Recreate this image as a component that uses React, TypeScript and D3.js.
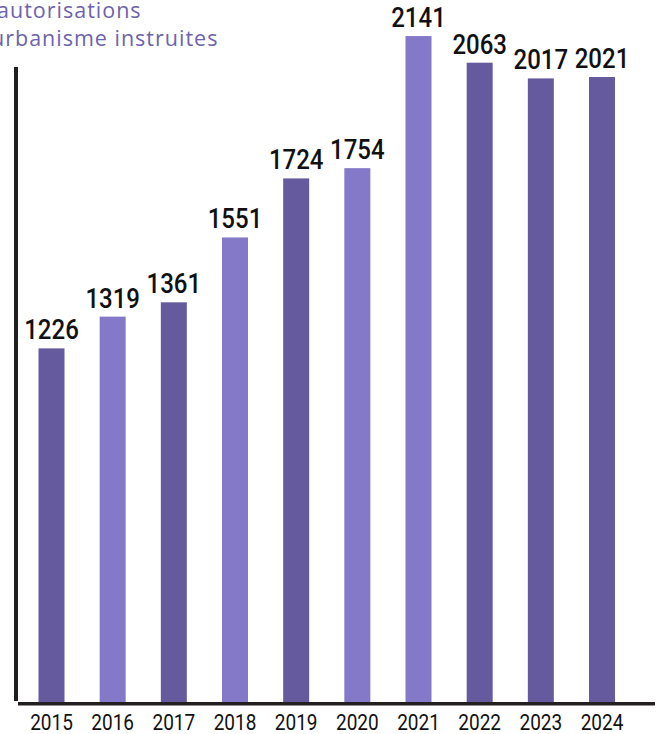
import { useEffect, useRef } from "react";
import * as d3 from "d3";

const years = ["2015", "2016", "2017", "2018", "2019", "2020", "2021", "2022", "2023", "2024"];
const counts = [1226, 1319, 1361, 1551, 1724, 1754, 2141, 2063, 2017, 2021];
const shades = ["dark", "light", "dark", "light", "dark", "light", "light", "dark", "dark", "dark"];
const titleLines = ["autorisations", "urbanisme instruites"];

const W = 660;
const H = 734;
const BASE = 703;
const DARK = "#665a9f";
const LIGHT = "#8479c9";

export default function App() {
  const svgRef = useRef<SVGSVGElement | null>(null);

  useEffect(() => {
    const svg = d3.select(svgRef.current);
    svg.selectAll("*").remove();

    const x = d3.scalePoint<string>().domain(years).range([51.5, 602]);
    const y = d3.scaleLinear().domain([190, 2150]).range([702, 33]);
    const barW = 26;

    // title, clipped at the left edge like the source
    svg
      .append("g")
      .selectAll("text")
      .data(titleLines)
      .join("text")
      .attr("x", (_, i) => (i === 0 ? -3 : -9))
      .attr("y", (_, i) => 18 + i * 28)
      .attr("fill", "#6d62ad")
      .attr("font-family", "'Open Sans', sans-serif")
      .attr("font-size", 21.5)
      .attr("font-weight", 500)
      .attr("letter-spacing", 1)
      .text((d) => d);

    // bars
    svg
      .append("g")
      .selectAll("rect")
      .data(counts)
      .join("rect")
      .attr("x", (_, i) => x(years[i])! - barW / 2)
      .attr("y", (d) => y(d))
      .attr("width", barW)
      .attr("height", (d) => BASE + 1 - y(d))
      .attr("fill", (_, i) => (shades[i] === "dark" ? DARK : LIGHT));

    // value labels (tall, narrow digits)
    svg
      .append("g")
      .selectAll("text")
      .data(counts)
      .join("text")
      .attr("transform", (d, i) => `translate(${x(years[i])},${y(d) - 9}) scale(1,1.16)`)
      .attr("text-anchor", "middle")
      .attr("fill", "#111")
      .attr("font-family", "Roboto, sans-serif")
      .attr("font-size", 24)
      .attr("font-weight", 500)
      .text((d) => d);

    // axes lines
    svg
      .append("line")
      .attr("x1", 16)
      .attr("x2", 16)
      .attr("y1", 67)
      .attr("y2", 701)
      .attr("stroke", "#231f20")
      .attr("stroke-width", 4);
    svg
      .append("line")
      .attr("x1", 18)
      .attr("x2", 655)
      .attr("y1", BASE + 0.8)
      .attr("y2", BASE + 0.8)
      .attr("stroke", "#231f20")
      .attr("stroke-width", 3.5);

    // year labels
    svg
      .append("g")
      .selectAll("text")
      .data(years)
      .join("text")
      .attr("transform", (d) => `translate(${x(d)},730) scale(1,1.15)`)
      .attr("text-anchor", "middle")
      .attr("fill", "#111")
      .attr("font-family", "Roboto, sans-serif")
      .attr("font-size", 19)
      .text((d) => d);
  }, []);

  return (
    <svg
      ref={svgRef}
      width={W}
      height={H}
      viewBox={`0 0 ${W} ${H}`}
      style={{ position: "absolute", left: 0, top: 0, background: "#fff" }}
    />
  );
}
